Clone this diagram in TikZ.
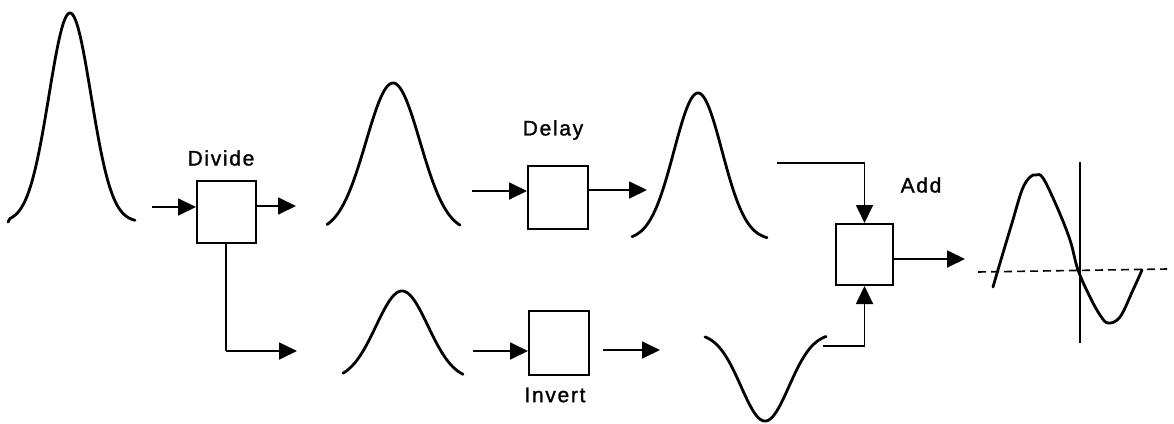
\documentclass[tikz,border=0pt]{standalone}
\usepackage{fontspec}
\setmainfont{Liberation Sans}[LetterSpace=8, FakeBold=1.2]
\usetikzlibrary{arrows.meta}
\tikzset{
  blockbox/.style={draw, line width=2pt, minimum width=#1, inner sep=0pt},
  wave/.style={line width=2.8pt, line cap=round, line join=round},
  conn/.style={line width=1.8pt, -{Triangle[length=18pt,width=17pt]}},
  plainconn/.style={line width=1.8pt},
  lbl/.style={font=\fontsize{21}{24}\selectfont, inner sep=0pt}
}
\begin{document}
\begin{tikzpicture}[x=1pt,y=-1pt]
\useasboundingbox (0,0) rectangle (1174,423);
% blocks
\node[blockbox=59pt, minimum height=62pt] (divide) at (226.5,212) {};
\node[blockbox=60pt, minimum height=63pt] (delay) at (558,197.5) {};
\node[blockbox=60pt, minimum height=64pt] (invert) at (559,343) {};
\node[blockbox=57pt, minimum height=61pt] (add) at (864.5,254.5) {};
% labels
\node[lbl] (tdivide) at (221,158) {Divide};
\node[lbl] (tdelay) at (553,130) {Delay};
\node[lbl] (tinvert) at (555,395) {Invert};
\node[lbl] (tadd) at (921,185) {Add};
% free connector ends
\coordinate (inA) at (152,207);
\coordinate (outA) at (296,206);
\coordinate (downA) at (226,351);
\coordinate (outB) at (297,351);
\coordinate (inD) at (472,191);
\coordinate (outD) at (647,190);
\coordinate (inI) at (473,351);
\coordinate (outIs) at (603,350);
\coordinate (outIe) at (660,350);
\coordinate (topA) at (777,163);
\coordinate (botA) at (823,346);
\coordinate (outAdd) at (965,259);
% connectors
\draw[conn] (inA) -- (inA -| divide.west);
\draw[conn] (outA -| divide.east) -- (outA);
\draw[plainconn] (divide.south -| downA) -- (downA);
\draw[conn] (downA) -- (outB);
\draw[conn] (inD) -- (inD -| delay.west);
\draw[conn] (outD -| delay.east) -- (outD);
\draw[conn] (inI) -- (inI -| invert.west);
\draw[conn] (outIs) -- (outIe);
\draw[conn] (topA) -| (add.north);
\draw[conn] (botA) -| (add.south);
\draw[conn] (outAdd -| add.east) -- (outAdd);
% waveforms
\draw[wave] (8,222) -- plot[domain=10:135, samples=100] (\x, {222-209*exp(-((\x-70)^2)/(2*21^2))});
\draw[wave] plot[domain=327:460, samples=90] (\x, {232-149*exp(-((\x-393)^2)/(2*27^2))});
\draw[wave] plot[domain=343:463, samples=90] (\x, {380-89*exp(-((\x-402)^2)/(2*26^2))});
\draw[wave] plot[domain=632:767, samples=90] (\x, {240-147*exp(-((\x-698)^2)/(2*24^2))});
\draw[wave] plot[domain=705:826, samples=90] (\x, {333+88*exp(-((\x-765)^2)/(2*24^2))});
% output waveform
\draw[line width=1.6pt, dash pattern=on 8pt off 5pt] (978,272) -- (1167,269);
\draw[line width=2.8pt] (1080,162) -- (1080,343);
\draw[wave] plot[smooth, tension=0.6] coordinates {(993,287) (1000,263) (1012,223) (1022,190) (1030,177) (1036,175) (1043,178) (1057,207) (1070,240) (1078,270) (1090,297) (1100,315) (1108,323) (1120,317) (1133,290) (1142,270)};
\end{tikzpicture}
\end{document}
